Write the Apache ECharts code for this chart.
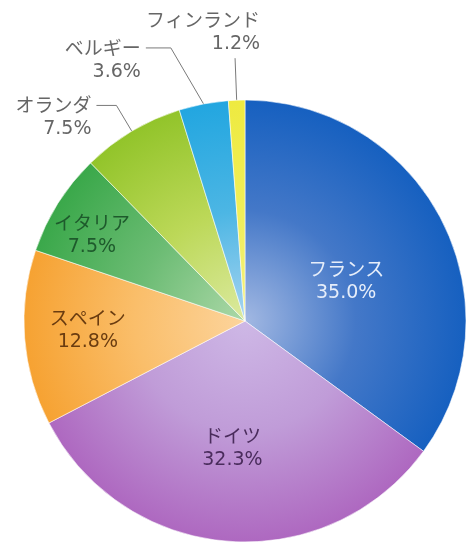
<!DOCTYPE html>
<html>
<head>
<meta charset="utf-8">
<script src="https://cdn.jsdelivr.net/npm/echarts@6/dist/echarts.min.js"></script>
<style>
html,body{margin:0;padding:0;background:#fff;}
#chart{width:469px;height:544px;}
</style>
</head>
<body>
<div id="chart"></div>
<script>
// Data
var countries = ['フランス', 'ドイツ', 'スペイン', 'イタリア', 'オランダ', 'ベルギー', 'フィンランド'];
var shares = [35.0, 32.3, 12.8, 7.5, 7.5, 3.6, 1.2];

// Styles
var innerStops = ['#a2b8e2', '#ceb8e6', '#fcd49c', '#acd8a8', '#dceaa0', '#a8d4f0', '#f4f080'];
var midStops   = ['#4478c8', '#c09cd8', '#fabe6a', '#6cbc74', '#bcd858', '#4cb6e4', '#f0ee58'];
var outerStops = ['#1660c0', '#ae68c0', '#f6a232', '#3aa84a', '#92c42a', '#22a6e0', '#eeea40'];
var labelColors = ['#e6eefa', '#4a2c5c', '#6a3c10', '#1e5a2c', '#666666', '#666666', '#666666'];
var insideFlags = [true, true, true, true, false, false, false];
var labelShift = [[0, 12], [-4, 15], [-44, 1], [-57, -25], [0, 13], [-22, 13], [30, -25]];
var lineShift = [0, 0, 0, 0, 0, -22, 0];
var lineLen = [0, 0, 0, 0, 30, 57, 42];
var lineLen2 = [0, 0, 0, 0, 20, 25, 0];

var cx = 245, cy = 321, R = 221;

function grad(i) {
  return {
    type: 'radial', x: cx, y: cy, r: R, global: true,
    colorStops: [
      {offset: 0, color: innerStops[i]},
      {offset: 0.5, color: midStops[i]},
      {offset: 1, color: outerStops[i]}
    ]
  };
}

var seriesData = countries.map(function (name, i) {
  return {
    name: name,
    value: shares[i],
    itemStyle: {color: grad(i)},
    label: {
      position: insideFlags[i] ? 'inside' : 'outside',
      color: labelColors[i]
    },
    labelLine: {
      show: !insideFlags[i],
      length: lineLen[i],
      length2: lineLen2[i]
    }
  };
});

var chart = echarts.init(document.getElementById('chart'));
chart.setOption({
  backgroundColor: '#ffffff',
  animation: false,
  series: [{
    type: 'pie',
    center: [cx, cy],
    radius: [0, R],
    startAngle: 90,
    clockwise: true,
    avoidLabelOverlap: false,
    itemStyle: {borderColor: 'rgba(255,255,255,0.55)', borderWidth: 1},
    label: {
      show: true,
      fontFamily: '"DejaVu Sans", "Noto Sans CJK JP", sans-serif',
      fontSize: 19,
      lineHeight: 22,
      align: 'right',
      formatter: function (p) { return p.name + '\n' + shares[p.dataIndex].toFixed(1) + '%'; }
    },
    labelLine: {
      lineStyle: {color: '#7a7a7a', width: 1}
    },
    labelLayout: function (params) {
      var i = params.dataIndex;
      var res = {dx: labelShift[i][0], dy: labelShift[i][1]};
      if (params.labelLinePoints && !insideFlags[i]) {
        var pts = params.labelLinePoints.map(function (p) { return [p[0], p[1]]; });
        for (var k = 1; k < pts.length; k++) { pts[k][0] += lineShift[i]; }
        res.labelLinePoints = pts;
      }
      return res;
    },
    data: seriesData
  }]
});
</script>
</body>
</html>
